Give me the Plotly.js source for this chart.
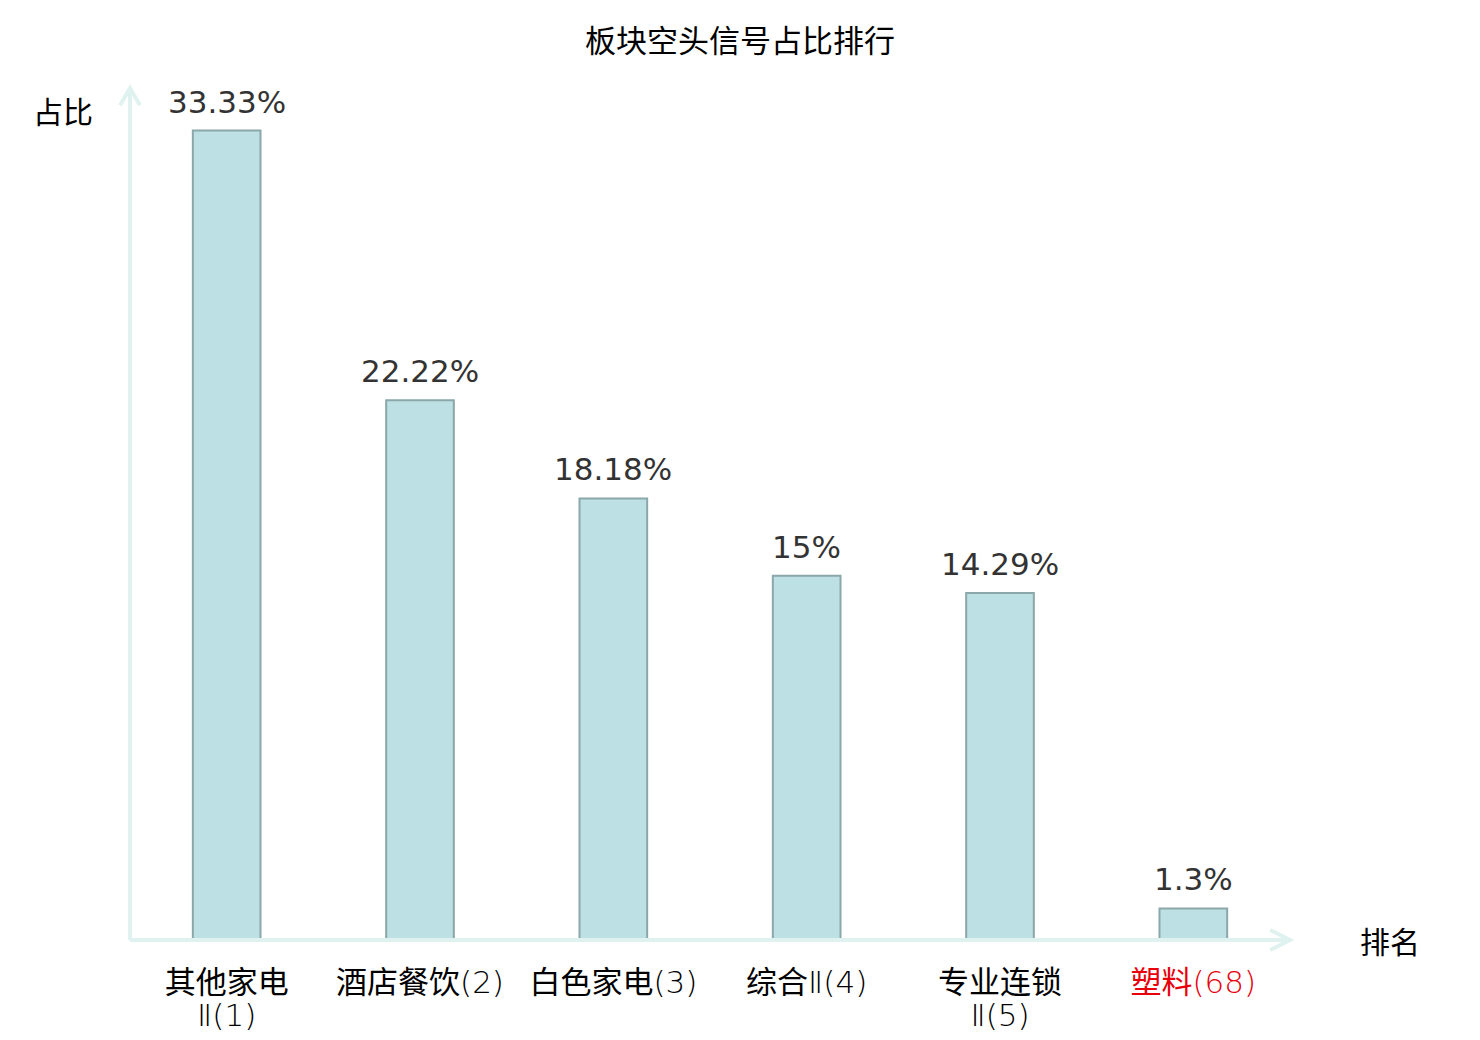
<!DOCTYPE html>
<html>
<head>
<meta charset="utf-8">
<script src="https://cdn.plot.ly/plotly-3.0.1.min.js"></script>
<style>
  body { margin: 0; background: #fff; }
  #grafico { width: 1480px; height: 1040px; }
</style>
</head>
<body>
<div id="grafico"></div>
<script>
// datos del grafico
var categorias = [['其他家电', 'Ⅱ(1)'], ['酒店餐饮(2)'], ['白色家电(3)'], ['综合Ⅱ(4)'], ['专业连锁', 'Ⅱ(5)'], ['塑料(68)']];
var colorCategoria = ['#000', '#000', '#000', '#000', '#000', '#e8000b'];
var valores = [33.33, 22.22, 18.18, 15, 14.29, 1.3];
var etiquetas = valores.map(function (v) { return v + '%'; });
var posiciones = [0, 1, 2, 3, 4, 5];

var ejeColor = '#dff2ef';
var fuenteEje = 'DejaVu Sans Light, Noto Sans CJK SC';

// cada linea con su tamaño, el tamaño base define el interlineado
var ticktexto = categorias.map(function (lineas, i) {
  return lineas.map(function (l) {
    return '<span style="font-size:31px;fill:' + colorCategoria[i] + '">' + l + '</span>';
  }).join('<br>');
});

var trace = {
  x: posiciones,
  y: valores,
  type: 'bar',
  width: 0.35,
  marker: { color: '#bce0e3', line: { color: '#8ba7aa', width: 2 } },
  hoverinfo: 'none'
};

var notas = posiciones.map(function (p, i) {
  return {
    x: p, y: valores[i], xref: 'x', yref: 'y',
    text: etiquetas[i], showarrow: false,
    xanchor: 'center', yanchor: 'bottom', yshift: 9,
    font: { family: 'DejaVu Sans', size: 31, color: '#333333' }
  };
});

notas.push(
  { text: '占比', xref: 'paper', yref: 'paper', x: -0.058, y: 0.976, xanchor: 'center', yanchor: 'middle', showarrow: false,
    font: { family: 'Noto Sans CJK SC', size: 30, color: '#000' } },
  { text: '排名', xref: 'paper', yref: 'paper', x: 1.086, y: 0, xanchor: 'center', yanchor: 'middle', showarrow: false,
    font: { family: 'Noto Sans CJK SC', size: 30, color: '#000' } }
);

var layout = {
  width: 1480,
  height: 1040,
  margin: { l: 130, r: 190, t: 90, b: 100 },
  paper_bgcolor: '#fff',
  plot_bgcolor: '#fff',
  showlegend: false,
  font: { family: 'Noto Sans CJK SC, DejaVu Sans', color: '#000' },
  title: {
    text: '板块空头信号占比排行',
    font: { family: 'Noto Sans CJK SC', size: 31, color: '#000' },
    x: 0.5, xanchor: 'center', y: 0.96, yanchor: 'middle'
  },
  xaxis: {
    range: [-0.5, 5.5],
    tickvals: posiciones,
    ticktext: ticktexto,
    ticks: '',
    ticklabelstandoff: 27,
    tickfont: { family: fuenteEje, size: 25, color: '#000' },
    showgrid: false, zeroline: false, showline: false
  },
  yaxis: {
    range: [0, 35],
    showticklabels: false,
    ticks: '',
    showgrid: false, zeroline: false, showline: false
  },
  shapes: [
    // eje x
    { type: 'line', xref: 'paper', yref: 'paper', x0: 0, y0: 0, x1: 1, y1: 0, line: { color: ejeColor, width: 4 } },
    { type: 'path', xref: 'paper', yref: 'paper', path: 'M 0.983,0.0118 L 1,0 L 0.983,-0.0118', line: { color: ejeColor, width: 4 } },
    // eje y
    { type: 'line', xref: 'paper', yref: 'paper', x0: 0, y0: 0, x1: 0, y1: 1.002, line: { color: ejeColor, width: 4 } },
    { type: 'path', xref: 'paper', yref: 'paper', path: 'M -0.0086,0.982 L 0,1.002 L 0.0086,0.982', line: { color: ejeColor, width: 4 } }
  ],
  annotations: notas
};

Plotly.newPlot('grafico', [trace], layout, { displayModeBar: false, staticPlot: true });
</script>
</body>
</html>
